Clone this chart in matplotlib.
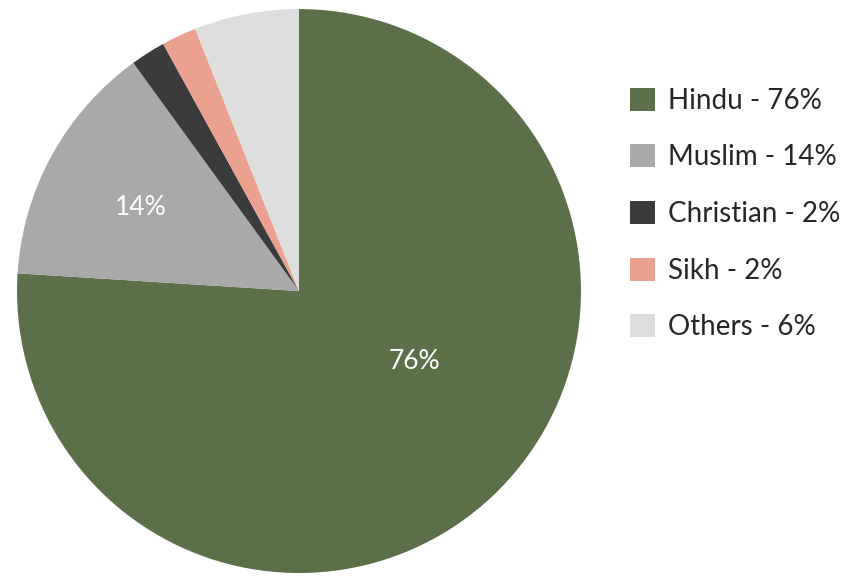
import matplotlib.pyplot as plt
from matplotlib.patches import Patch

# Données
religions = ["Hindu", "Muslim", "Christian", "Sikh", "Others"]
parts = [76, 14, 2, 2, 6]
couleurs = ["#5b6f49", "#a9a9a9", "#3b3b3b", "#eaa190", "#dedede"]

plt.rcParams["font.family"] = ["Lato", "DejaVu Sans"]

fig = plt.figure(figsize=(8.55, 5.85), dpi=100)
ax = fig.add_axes([0.0199, 0.0205, 0.6596, 0.964])

ax.pie(parts, colors=couleurs, startangle=90, counterclock=False,
       wedgeprops={"linewidth": 0})
ax.set_xlim(-1, 1)
ax.set_ylim(-1, 1)
ax.set_aspect("equal")
ax.axis("off")

# Étiquettes dans les parts
ax.text(0.41, -0.25, f"{parts[0]}%", color="white", fontsize=19,
        ha="center", va="center")
ax.text(-0.56, 0.295, f"{parts[1]}%", color="white", fontsize=19,
        ha="center", va="center")

handles = [Patch(facecolor=c, edgecolor="none") for c in couleurs]
labels = [f"{r} - {p}%" for r, p in zip(religions, parts)]
fig.legend(handles, labels, loc="center left", bbox_to_anchor=(0.737, 0.634),
           frameon=False, fontsize=20, handlelength=0.9, handleheight=0.9,
           handletextpad=0.45, labelspacing=1.1, borderpad=0, borderaxespad=0,
           labelcolor="#262626")

fig.savefig("out.png", dpi=100, facecolor="white")
